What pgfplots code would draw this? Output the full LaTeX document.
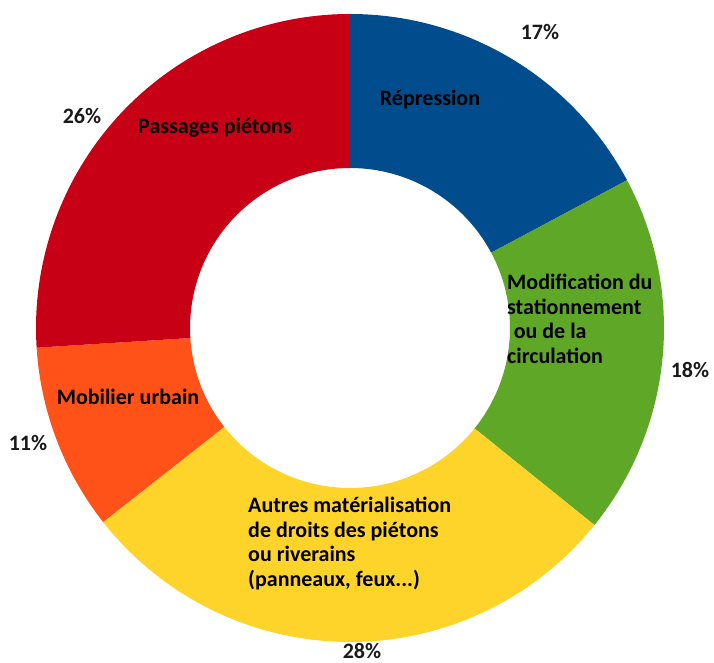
\documentclass[border=0pt]{standalone}
\usepackage{pgfplots}
\usepackage{pgfplotstable}
\pgfplotsset{compat=1.18}
\usepackage{fontspec}
\setmainfont{Carlito}
\definecolor{cblue}{RGB}{0,76,141}
\definecolor{cgreen}{RGB}{95,168,39}
\definecolor{cyellow}{RGB}{255,212,42}
\definecolor{corange}{RGB}{255,82,24}
\definecolor{cred}{RGB}{200,0,22}
\definecolor{ctext}{RGB}{25,25,25}
\pgfplotstableread[col sep=comma]{
category,value,color
Répression,17.2,cblue
Modification du stationnement ou de la circulation,18.6,cgreen
Autres matérialisation de droits des piétons ou riverains,28.6,cyellow
Mobilier urbain,9.6,corange
Passages piétons,26.0,cred
}\donutdata
\begin{document}
\begin{tikzpicture}
\begin{axis}[
  width=714pt, height=663pt, scale only axis,
  xmin=0, xmax=714, ymin=0, ymax=663,
  hide axis, clip=false,
]
\path (axis cs:0,0) rectangle (axis cs:714,663);
\pgfplotstablegetrowsof{\donutdata}
\pgfmathtruncatemacro\nrows{\pgfplotsretval-1}
\gdef\acc{90}
\pgfplotsforeachungrouped \i in {0,...,\nrows}{%
  \pgfplotstablegetelem{\i}{value}\of\donutdata
  \pgfmathsetmacro\aend{\acc-3.6*\pgfplotsretval}%
  \pgfplotstablegetelem{\i}{color}\of\donutdata
  \edef\cc{\pgfplotsretval}%
  \edef\temp{\noexpand\fill[\cc] ([shift={(\acc:314pt)}]axis cs:350,335) arc[start angle=\acc, end angle=\aend, radius=314pt] -- ([shift={(\aend:160pt)}]axis cs:350,335) arc[start angle=\aend, end angle=\acc, radius=160pt] -- cycle;}%
  \temp
  \global\let\acc\aend
}
\tikzset{lab/.style={font=\fontsize{22}{24.5}\selectfont\bfseries, text=black, inner sep=0pt},
         pct/.style={font=\fontsize{22}{24}\selectfont\bfseries, text=ctext, inner sep=0pt}}
\node[pct] at (axis cs:540,631) {17\%};
\node[pct] at (axis cs:690,293) {18\%};
\node[pct] at (axis cs:362,12) {28\%};
\node[pct] at (axis cs:28,220) {11\%};
\node[pct] at (axis cs:82,547) {26\%};
\node[lab] at (axis cs:430,563) {Répression};
\node[lab, anchor=west, align=left] at (axis cs:507,344) {Modification du\\stationnement\\\hspace{0.3em}ou de la\\circulation};
\node[lab, anchor=west, align=left] at (axis cs:248,119.5) {Autres matérialisation\\de droits des piétons\\ou riverains\\(panneaux, feux...)};
\node[lab] at (axis cs:128,266) {Mobilier urbain};
\node[lab] at (axis cs:215,535) {Passages piétons};
\end{axis}
\end{tikzpicture}
\end{document}
